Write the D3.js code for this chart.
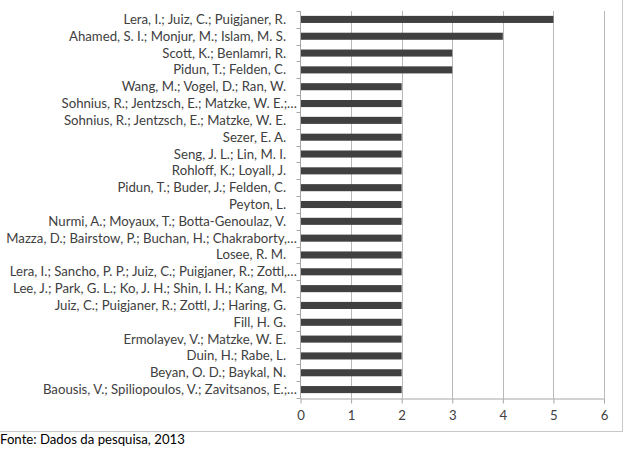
<!DOCTYPE html>
<html><head><meta charset="utf-8">
<script src="https://cdn.jsdelivr.net/npm/d3@7"></script>
<style>body{margin:0;background:#fff}svg{display:block}</style>
</head><body><svg id="c" width="624" height="451"></svg>
<script>
const authors = [
  "Lera, I.; Juiz, C.; Puigjaner, R.",
  "Ahamed, S. I.; Monjur, M.; Islam, M. S.",
  "Scott, K.; Benlamri, R.",
  "Pidun, T.; Felden, C.",
  "Wang, M.; Vogel, D.; Ran, W.",
  "Sohnius, R.; Jentzsch, E.; Matzke, W. E.;…",
  "Sohnius, R.; Jentzsch, E.; Matzke, W. E.",
  "Sezer, E. A.",
  "Seng, J. L.; Lin, M. I.",
  "Rohloff, K.; Loyall, J.",
  "Pidun, T.; Buder, J.; Felden, C.",
  "Peyton, L.",
  "Nurmi, A.; Moyaux, T.; Botta-Genoulaz, V.",
  "Mazza, D.; Bairstow, P.; Buchan, H.; Chakraborty,…",
  "Losee, R. M.",
  "Lera, I.; Sancho, P. P.; Juiz, C.; Puigjaner, R.; Zottl,…",
  "Lee, J.; Park, G. L.; Ko, J. H.; Shin, I. H.; Kang, M.",
  "Juiz, C.; Puigjaner, R.; Zottl, J.; Haring, G.",
  "Fill, H. G.",
  "Ermolayev, V.; Matzke, W. E.",
  "Duin, H.; Rabe, L.",
  "Beyan, O. D.; Baykal, N.",
  "Baousis, V.; Spiliopoulos, V.; Zavitsanos, E.;…"
];
const counts = [5,4,3,3,2,2,2,2,2,2,2,2,2,2,2,2,2,2,2,2,2,2,2];
const xTicks = [0,1,2,3,4,5,6];
const source = "Fonte: Dados da pesquisa, 2013";

const svg = d3.select("#c");
const font = "Lato, 'Open Sans', sans-serif";
const x = d3.scaleLinear().domain([0,6]).range([300.5,604]);
const y = d3.scaleBand().domain(authors).range([11,398]).paddingInner(0.58).paddingOuter(0.29);
const yb = d3.scaleBand().domain(authors).range([11,398]);

// frame lines
svg.append("line").attr("x1",0).attr("x2",623).attr("y1",431.5).attr("y2",431.5).attr("stroke","#c8c8c8");
svg.append("line").attr("x1",622.5).attr("x2",622.5).attr("y1",0).attr("y2",432).attr("stroke","#c8c8c8");

// gridlines
svg.append("g").selectAll("line").data(xTicks.slice(1)).join("line")
  .attr("x1",d=>Math.round(x(d))+0.5).attr("x2",d=>Math.round(x(d))+0.5)
  .attr("y1",11).attr("y2",398).attr("stroke","#b8b8b8");

// bars
svg.append("g").selectAll("rect").data(authors).join("rect")
  .attr("x",x(0)).attr("y",d=>y(d)).attr("width",(d,i)=>x(counts[i])-x(0))
  .attr("height",y.bandwidth()).attr("fill","#404040");

// y axis
const ga = svg.append("g").attr("transform","translate(300.5,0)");
ga.append("line").attr("y1",11).attr("y2",398.5).attr("stroke","#a6a6a6");
ga.selectAll("line.t").data(d3.range(authors.length+1)).join("line").attr("class","t")
  .attr("x1",-4).attr("x2",0).attr("y1",i=>Math.round(11+i*yb.step())+0.5).attr("y2",i=>Math.round(11+i*yb.step())+0.5)
  .attr("stroke","#a6a6a6");
svg.append("g").selectAll("text").data(authors).join("text")
  .attr("x",d=>d.endsWith("…")?297:286).attr("y",d=>y(d)+y.bandwidth()/2+4.5)
  .attr("text-anchor","end").attr("font-family",font).attr("font-size",13.2).attr("fill","#404040")
  .text(d=>d);

// x axis
const xa = d3.axisBottom(x).tickValues(xTicks).tickSize(5).tickSizeOuter(0).tickFormat(d3.format("d"));
const gx = svg.append("g").attr("transform","translate(0,398.5)").call(xa);
gx.select(".domain").attr("stroke","#a6a6a6");
gx.selectAll(".tick line").attr("stroke","#a6a6a6");
gx.selectAll(".tick text").attr("font-family",font).attr("font-size",13.2).attr("fill","#404040").attr("y",8).attr("dy","1.05em");

svg.append("text").attr("x",0).attr("y",444).attr("font-family",font).attr("font-size",13.2).attr("fill","#000").text(source);
</script></body></html>
